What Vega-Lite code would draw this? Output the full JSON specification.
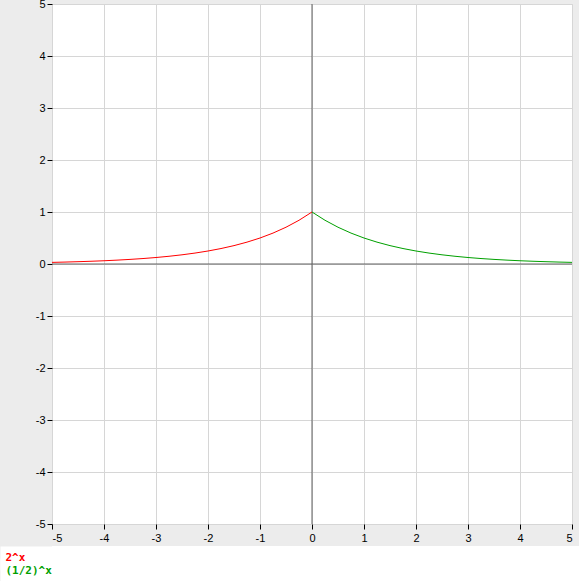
{
  "$schema": "https://vega.github.io/schema/vega-lite/v6.json",
  "autosize": {"type": "pad"},
  "padding": {"left": -12, "top": -3, "right": 0, "bottom": 0},
  "background": "#ececec",
  "spacing": 0,
  "resolve": {"scale": {"x": "independent", "y": "independent"}},
  "config": {
    "axis": {
      "domain": false,
      "grid": true,
      "gridColor": "#d6d6d6",
      "gridWidth": 1,
      "tickColor": "#000000",
      "tickSize": 5,
      "labelColor": "#000000",
      "labelFont": "Liberation Sans",
      "labelFontSize": 11,
      "title": null
    }
  },
  "datasets": {
    "curves": [
      {"x": -5, "y": 0.03125, "series": "2^x"},
      {"x": -4.75, "y": 0.0372, "series": "2^x"},
      {"x": -4.5, "y": 0.0442, "series": "2^x"},
      {"x": -4.25, "y": 0.0526, "series": "2^x"},
      {"x": -4, "y": 0.0625, "series": "2^x"},
      {"x": -3.75, "y": 0.0743, "series": "2^x"},
      {"x": -3.5, "y": 0.0884, "series": "2^x"},
      {"x": -3.25, "y": 0.1051, "series": "2^x"},
      {"x": -3, "y": 0.125, "series": "2^x"},
      {"x": -2.75, "y": 0.1487, "series": "2^x"},
      {"x": -2.5, "y": 0.1768, "series": "2^x"},
      {"x": -2.25, "y": 0.2102, "series": "2^x"},
      {"x": -2, "y": 0.25, "series": "2^x"},
      {"x": -1.75, "y": 0.2973, "series": "2^x"},
      {"x": -1.5, "y": 0.3536, "series": "2^x"},
      {"x": -1.25, "y": 0.4204, "series": "2^x"},
      {"x": -1, "y": 0.5, "series": "2^x"},
      {"x": -0.75, "y": 0.5946, "series": "2^x"},
      {"x": -0.5, "y": 0.7071, "series": "2^x"},
      {"x": -0.25, "y": 0.8409, "series": "2^x"},
      {"x": 0, "y": 1, "series": "2^x"},
      {"x": 0, "y": 1, "series": "(1/2)^x"},
      {"x": 0.25, "y": 0.8409, "series": "(1/2)^x"},
      {"x": 0.5, "y": 0.7071, "series": "(1/2)^x"},
      {"x": 0.75, "y": 0.5946, "series": "(1/2)^x"},
      {"x": 1, "y": 0.5, "series": "(1/2)^x"},
      {"x": 1.25, "y": 0.4204, "series": "(1/2)^x"},
      {"x": 1.5, "y": 0.3536, "series": "(1/2)^x"},
      {"x": 1.75, "y": 0.2973, "series": "(1/2)^x"},
      {"x": 2, "y": 0.25, "series": "(1/2)^x"},
      {"x": 2.25, "y": 0.2102, "series": "(1/2)^x"},
      {"x": 2.5, "y": 0.1768, "series": "(1/2)^x"},
      {"x": 2.75, "y": 0.1487, "series": "(1/2)^x"},
      {"x": 3, "y": 0.125, "series": "(1/2)^x"},
      {"x": 3.25, "y": 0.1051, "series": "(1/2)^x"},
      {"x": 3.5, "y": 0.0884, "series": "(1/2)^x"},
      {"x": 3.75, "y": 0.0743, "series": "(1/2)^x"},
      {"x": 4, "y": 0.0625, "series": "(1/2)^x"},
      {"x": 4.25, "y": 0.0526, "series": "(1/2)^x"},
      {"x": 4.5, "y": 0.0442, "series": "(1/2)^x"},
      {"x": 4.75, "y": 0.0372, "series": "(1/2)^x"},
      {"x": 5, "y": 0.03125, "series": "(1/2)^x"}
    ],
    "zero": [{"v": 0}],
    "legend": [{"series": "2^x"}, {"series": "(1/2)^x"}]
  },
  "vconcat": [
    {
      "width": 520,
      "height": 520,
      "view": {"fill": "white", "stroke": "#d6d6d6"},
      "layer": [
        {
          "data": {"name": "zero"},
          "mark": {"type": "rule", "color": "#606060", "strokeWidth": 1},
          "encoding": {
            "x": {"field": "v", "type": "quantitative"}
          }
        },
        {
          "data": {"name": "zero"},
          "mark": {"type": "rule", "color": "#606060", "strokeWidth": 1},
          "encoding": {
            "y": {"field": "v", "type": "quantitative"}
          }
        },
        {
          "data": {"name": "curves"},
          "mark": {"type": "line", "strokeWidth": 1, "clip": true},
          "encoding": {
            "x": {
              "field": "x", "type": "quantitative",
              "scale": {"domain": [-5, 5], "nice": false, "zero": false},
              "axis": {"values": [-5, -4, -3, -2, -1, 0, 1, 2, 3, 4, 5], "labelExpr": "'' + datum.value", "labelPadding": 3, "minExtent": 21, "maxExtent": 21}
            },
            "y": {
              "field": "y", "type": "quantitative",
              "scale": {"domain": [-5, 5], "nice": false, "zero": false},
              "axis": {"values": [-5, -4, -3, -2, -1, 0, 1, 2, 3, 4, 5], "labelExpr": "'' + datum.value", "labelPadding": 2, "minExtent": 52, "maxExtent": 52}
            },
            "color": {
              "field": "series", "type": "nominal",
              "scale": {"domain": ["2^x", "(1/2)^x"], "range": ["#ff0000", "#00a000"]},
              "legend": null
            }
          }
        }
      ]
    },
    {
      "width": 527,
      "height": 36,
      "view": {"fill": "white", "stroke": null},
      "data": {"name": "legend"},
      "mark": {"type": "point", "opacity": 0},
      "encoding": {
        "y": {
          "field": "series", "type": "nominal",
          "scale": {"type": "point", "domain": ["2^x", "(1/2)^x"], "padding": 0.885},
          "axis": {
            "grid": false,
            "domain": false,
            "tickSize": 52,
            "tickWidth": 24,
            "tickColor": "#ffffff",
            "tickCap": "butt",
            "labelAlign": "left",
            "labelBaseline": "middle",
            "labelPadding": -5,
            "labelFont": "DejaVu Sans Mono",
            "labelFontWeight": "bold",
            "labelFontSize": 11,
            "labelColor": {"condition": {"test": "datum.value === '2^x'", "value": "#ff0000"}, "value": "#00a000"},
            "minExtent": 52,
            "maxExtent": 52
          }
        }
      }
    }
  ]
}
